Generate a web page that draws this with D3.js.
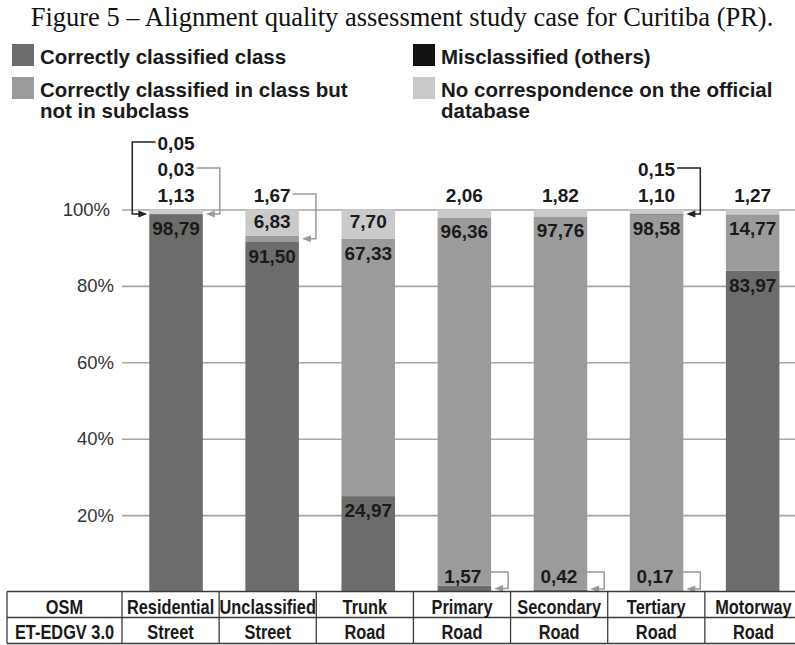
<!DOCTYPE html>
<html><head><meta charset="utf-8">
<script src="https://cdn.jsdelivr.net/npm/d3@7"></script>
<style>body{margin:0;background:#fff} svg{display:block}</style>
</head><body>
<svg id="chart" width="795" height="645"></svg>
<script>
// ---- data ----
const categories = ["Residential", "Unclassified", "Trunk", "Primary", "Secondary", "Tertiary", "Motorway"];
const etEdgv = ["Street", "Street", "Road", "Road", "Road", "Road", "Road"];
const correctClass = [98.79, 91.50, 24.97, 1.57, 0.42, 0.17, 83.97];
const classNotSubclass = [0.03, 1.67, 67.33, 96.36, 97.76, 98.58, 14.77];
const misclassified = [0.05, 0, 0, 0, 0, 0.15, 0];
const noCorrespondence = [1.13, 6.83, 7.70, 2.06, 1.82, 1.10, 1.27];
const yTicks = [20, 40, 60, 80, 100];
const seriesKeys = ["correct", "sub", "mis", "none"];
const seriesLabels = ["Correctly classified class", "Correctly classified in class but\nnot in subclass", "Misclassified (others)", "No correspondence on the official\ndatabase"];
const tableHeaders = ["OSM", "ET-EDGV 3.0"];
const titleText = "Figure 5 \u2013 Alignment quality assessment study case for Curitiba (PR).";

const colors = {correct: "#6e6c6a", sub: "#9c9b9b", mis: "#111111", none: "#cacaca"};
const SANS = "'Liberation Sans', Arial, Helvetica, sans-serif";
const fmt = v => d3.format(".2f")(v).replace(".", ",");

const rows = categories.map((c, i) => ({
  cat: c, correct: correctClass[i], sub: classNotSubclass[i], mis: misclassified[i], none: noCorrespondence[i]
}));

const svg = d3.select("#chart");

// title
svg.append("text").attr("x", 402).attr("y", 26).attr("text-anchor", "middle")
  .style("font-family", "'Liberation Serif', 'Times New Roman', serif").style("font-size", "26.5px")
  .attr("fill", "#111").text(titleText);

// legend
const legendPos = {correct: [12, 44], mis: [413, 44], sub: [12, 77], none: [413, 77]};
seriesKeys.forEach((k, i) => {
  const [lx, ly] = legendPos[k];
  const g = svg.append("g");
  g.append("rect").attr("x", lx).attr("y", ly).attr("width", 22).attr("height", 22).attr("fill", colors[k]);
  const lines = seriesLabels[i].split("\n");
  lines.forEach((line, j) => {
    g.append("text").attr("x", lx + 28).attr("y", ly + 19.5 + j * 21)
      .style("font-family", SANS).style("font-size", "20.5px").style("font-weight", "bold")
      .attr("fill", "#1a1a1a").text(line);
  });
});

// scales
const x = d3.scaleBand().domain(categories).range([128, 800.7]).paddingInner(0.443).paddingOuter(0.2215);
const y = d3.scaleLinear().domain([0, 100]).range([591.5, 209.5]);

// y axis + gridlines
const axis = svg.append("g").attr("transform", "translate(122,0)")
  .call(d3.axisLeft(y).tickValues(yTicks).tickSize(-673).tickPadding(8).tickFormat(d => d + "%"));
axis.select(".domain").remove();
axis.selectAll(".tick line").attr("stroke", "#a6a6a6").attr("stroke-width", 1.6);
axis.selectAll(".tick text").style("font-family", SANS).style("font-size", "18.5px").attr("fill", "#333")
  .attr("dx", d => d === 100 ? -4 : 0);

// stacked bars
const stack = d3.stack().keys(seriesKeys)(rows);
svg.append("g").selectAll("g").data(stack).join("g").attr("fill", d => colors[d.key])
  .selectAll("rect").data(d => d.filter(s => s[1] - s[0] > 0)).join("rect")
  .attr("x", d => x(d.data.cat)).attr("width", x.bandwidth())
  .attr("y", d => y(d[1])).attr("height", d => y(d[0]) - y(d[1]));

// labels
const lab = svg.append("g").style("font-family", SANS).style("font-size", "19px").style("font-weight", "bold");
const ann = svg.append("g").attr("fill", "none").attr("stroke-width", 1.5);

function arrow(pathD, tipX, tipY, dir, color) {
  ann.append("path").attr("d", pathD).attr("stroke", color);
  const b = tipX + (dir === "left" ? 9 : -9);
  ann.append("path").attr("d", `M${tipX},${tipY}L${b},${tipY - 3.5}L${b},${tipY + 3.5}Z`)
    .attr("fill", color).attr("stroke", "none");
}

rows.forEach(r => {
  const bl = x(r.cat), br = bl + x.bandwidth(), cx = bl + x.bandwidth() / 2;
  const segs = {};
  stack.forEach(s => { const d = s.find(e => e.data.cat === r.cat); segs[s.key] = [d[0], d[1]]; });
  let row = 0, arrows = 0;
  const top0 = y(100) - 7.5;
  const topText = (v, rowIdx) => lab.append("text").attr("x", cx).attr("y", top0 - 26 * rowIdx)
    .attr("text-anchor", "middle").attr("fill", "#1a1a1a").text(fmt(v));
  // inside labels
  seriesKeys.forEach(k => {
    const v = r[k];
    if (v >= 5) {
      lab.append("text").attr("x", cx).attr("y", y(segs[k][1]) + (k === "none" ? 18 : 21))
        .attr("text-anchor", "middle").attr("fill", "#1a1a1a").text(fmt(v));
    }
  });
  // small "no correspondence" on top
  if (r.none > 0 && r.none < 5) { topText(r.none, row); row++; }
  // small sub / mis with leader arrows above the bar
  ["sub", "mis"].forEach(k => {
    const v = r[k];
    if (v > 0 && v < 5) {
      const t = topText(v, row);
      const w = t.node().getComputedTextLength();
      const base = top0 - 26 * row;
      const ly = base - 8;
      const yT = y((segs[k][0] + segs[k][1]) / 2);
      const color = k === "mis" ? "#222" : "#9a9a9a";
      if (arrows === 0) {
        const vx = br + 17;
        arrow(`M${cx + w / 2 + 2},${ly}H${vx}V${yT}H${br + 10}`, br + 3, yT, "left", color);
      } else {
        const vx = bl - 17;
        arrow(`M${cx - w / 2 - 2},${ly}H${vx}V${yT}H${bl - 10}`, bl - 2, yT, "right", color);
      }
      row++; arrows++;
    }
  });
  // small correct class at the bottom
  if (r.correct > 0 && r.correct < 5) {
    const base = y(0) - 8.5;
    const t = lab.append("text").attr("x", cx - 1.5).attr("y", base).attr("text-anchor", "middle")
      .attr("fill", "#1a1a1a").text(fmt(r.correct));
    const w = t.node().getComputedTextLength();
    const ly = base - 11;
    const yT = Math.min(y(r.correct / 2), y(0) - 2.5);
    arrow(`M${cx - 1.5 + w / 2 + 2},${ly}H${br + 17}V${yT}H${br + 10}`, br + 3, yT, "left", "#9a9a9a");
  }
});

// table
const col = d3.scaleBand().domain(categories).range([122, 802]);
const tY = [591.5, 617.5, 643.5];
const tbl = svg.append("g");
tY.forEach(v => tbl.append("line").attr("x1", 7).attr("x2", 795).attr("y1", v).attr("y2", v)
  .attr("stroke", "#3c3c3c").attr("stroke-width", 1.3));
[7, ...categories.map(c => col(c))].forEach(v => tbl.append("line").attr("x1", v).attr("x2", v)
  .attr("y1", tY[0]).attr("y2", tY[2]).attr("stroke", "#3c3c3c").attr("stroke-width", 1.3));
const cell = (cxp, by, txt) => tbl.append("text")
  .attr("transform", `translate(${cxp},${by}) scale(0.84,1)`).attr("text-anchor", "middle")
  .style("font-family", SANS).style("font-size", "19.5px").style("font-weight", "bold")
  .attr("fill", "#1a1a1a").text(txt);
const rowBase = [614, 638.5];
cell(64.5, rowBase[0], tableHeaders[0]);
cell(64.5, rowBase[1], tableHeaders[1]);
categories.forEach((c, i) => {
  const cc = col(c) + col.bandwidth() / 2;
  cell(cc, rowBase[0], c);
  cell(cc, rowBase[1], etEdgv[i]);
});
</script>
</body></html>
